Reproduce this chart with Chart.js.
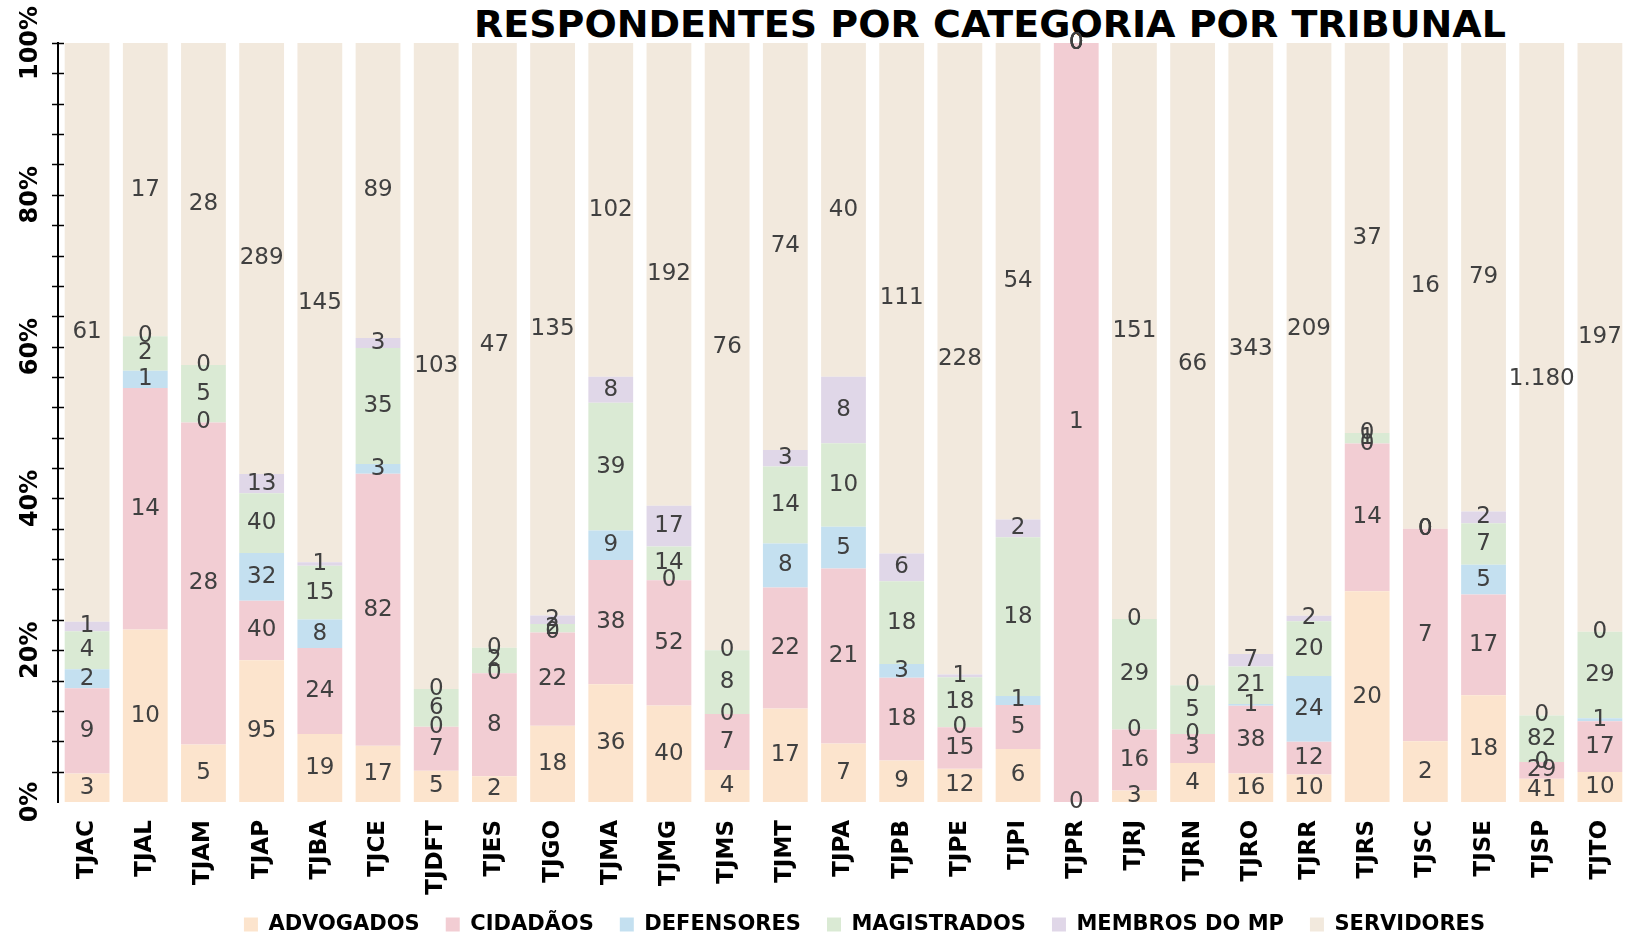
<!DOCTYPE html>
<html>
<head>
<meta charset="utf-8">
<title>Respondentes por categoria por tribunal</title>
<script src="https://cdn.jsdelivr.net/npm/chart.js@4/dist/chart.umd.min.js"></script>
<style>
  html, body { margin: 0; padding: 0; background: #fff; }
  #caixa { position: relative; width: 1629px; height: 934px; }
  #titulo {
    position: absolute; top: 5px; left: 990px; transform: translateX(-50%);
    white-space: nowrap; font: bold 38px/38px "DejaVu Sans", Verdana, sans-serif; color: #000;
  }
  #grafico { position: absolute; left: 0; top: 0; }
</style>
</head>
<body>
<div id="caixa">
  <div id="titulo">RESPONDENTES POR CATEGORIA POR TRIBUNAL</div>
  <canvas id="grafico" width="1629" height="934"></canvas>
</div>
<script>
// tribunais e contagens de respondentes
const tribunais = ['TJAC','TJAL','TJAM','TJAP','TJBA','TJCE','TJDFT','TJES','TJGO','TJMA','TJMG','TJMS','TJMT','TJPA',
  'TJPB','TJPE','TJPI','TJPR','TJRJ','TJRN','TJRO','TJRR','TJRS','TJSC','TJSE','TJSP','TJTO'];
const advogados   = [3,10,5,95,19,17,5,2,18,36,40,4,17,7,9,12,6,0,3,4,16,10,20,2,18,41,10];
const cidadaos    = [9,14,28,40,24,82,7,8,22,38,52,7,22,21,18,15,5,1,16,3,38,12,14,7,17,29,17];
const defensores  = [2,1,0,32,8,3,0,0,0,9,0,0,8,5,3,0,1,0,0,0,1,24,0,0,5,0,1];
const magistrados = [4,2,5,40,15,35,6,2,2,39,14,8,14,10,18,18,18,0,29,5,21,20,1,0,7,82,29];
const membrosMP   = [1,0,0,13,1,3,0,0,2,8,17,0,3,8,6,1,2,0,0,0,7,2,0,0,2,0,0];
const servidores  = [61,17,28,289,145,89,103,47,135,102,192,76,74,40,111,228,54,0,151,66,343,209,37,16,79,1180,197];
const rotulosEixoY = [0, 20, 40, 60, 80, 100];

const series = [
  { nome: 'ADVOGADOS', valores: advogados, cor: '#FCE4CD' },
  { nome: 'CIDADÃOS', valores: cidadaos, cor: '#F2CDD3' },
  { nome: 'DEFENSORES', valores: defensores, cor: '#C4E0F0' },
  { nome: 'MAGISTRADOS', valores: magistrados, cor: '#DAEAD4' },
  { nome: 'MEMBROS DO MP', valores: membrosMP, cor: '#E0D7E8' },
  { nome: 'SERVIDORES', valores: servidores, cor: '#F2E9DD' }
];

// total por tribunal, para empilhar em 100%
const totais = tribunais.map((t, j) => series.reduce((s, d) => s + d.valores[j], 0));

function formatar(n) {
  return String(n).replace(/\B(?=(\d{3})+(?!\d))/g, '.');
}

const fonte = '"DejaVu Sans", Verdana, sans-serif';

const rotulosPlugin = {
  id: 'rotulos',
  afterDatasetsDraw(chart) {
    const ctx = chart.ctx;
    ctx.save();
    ctx.font = '23px ' + fonte;
    ctx.fillStyle = '#404040';
    ctx.textAlign = 'center';
    ctx.textBaseline = 'middle';
    chart.data.datasets.forEach((ds, i) => {
      chart.getDatasetMeta(i).data.forEach((barra, j) => {
        const c = barra.getCenterPoint();
        ctx.fillText(formatar(ds.contagens[j]), c.x, c.y);
      });
    });
    ctx.restore();
  }
};

// marcas do eixo Y cruzando a linha do eixo + legenda deslocada como no original
const marcasPlugin = {
  id: 'marcas',
  afterLayout(chart) {
    const lg = chart.legend;
    lg.left += 50; lg.right += 50;
    lg.top -= 8;
  },
  afterDraw(chart) {
    const ctx = chart.ctx;
    const ey = chart.scales.y;
    const x0 = ey.right;
    ctx.save();
    ctx.strokeStyle = '#000';
    ctx.lineWidth = 1.5;
    ey.ticks.forEach(t => {
      if (t.value === 0) return;
      const py = Math.round(ey.getPixelForValue(t.value)) + 0.5;
      ctx.beginPath();
      ctx.moveTo(x0 - 6, py);
      ctx.lineTo(x0 + 6, py);
      ctx.stroke();
    });
    ctx.restore();
  }
};

new Chart(document.getElementById('grafico'), {
  type: 'bar',
  data: {
    labels: tribunais,
    datasets: series.map(s => ({
      label: s.nome,
      data: s.valores.map((v, j) => totais[j] ? v / totais[j] * 100 : 0),
      contagens: s.valores,
      backgroundColor: s.cor,
      borderWidth: 0,
      barPercentage: 0.77,
      categoryPercentage: 1
    }))
  },
  options: {
    responsive: false,
    animation: false,
    layout: { padding: { top: 43, left: 0, right: 0, bottom: 0 } },
    scales: {
      x: {
        stacked: true,
        grid: { display: false, drawTicks: false },
        border: { display: false },
        ticks: {
          minRotation: 90, maxRotation: 90, padding: 18, autoSkip: false,
          color: '#000', font: { family: fonte, size: 23, weight: 'bold' }
        },
        afterFit(scale) {
          scale.height = 94;
          scale.paddingLeft = 0; scale.paddingRight = 0;
        }
      },
      y: {
        stacked: true,
        min: 0, max: 100,
        grid: { display: false, drawTicks: false },
        border: { display: true, color: '#000', width: 2 },
        ticks: {
          stepSize: 4, autoSkip: false,
          minRotation: 90, maxRotation: 90,
          crossAlign: 'center', padding: -10,
          color: '#000', font: { family: fonte, size: 24, weight: 'bold' },
          callback: v => rotulosEixoY.includes(v) ? v + '%' : ''
        },
        afterFit(scale) {
          scale.width = 58;
          scale.paddingTop = 0; scale.paddingBottom = 0;
        }
      }
    },
    plugins: {
      legend: {
        position: 'bottom',
        maxHeight: 38,
        labels: {
          boxWidth: 14, boxHeight: 14, padding: 26,
          color: '#000', font: { family: fonte, size: 21, weight: 'bold' }
        }
      },
      tooltip: { enabled: false }
    }
  },
  plugins: [rotulosPlugin, marcasPlugin]
});
</script>
</body>
</html>
